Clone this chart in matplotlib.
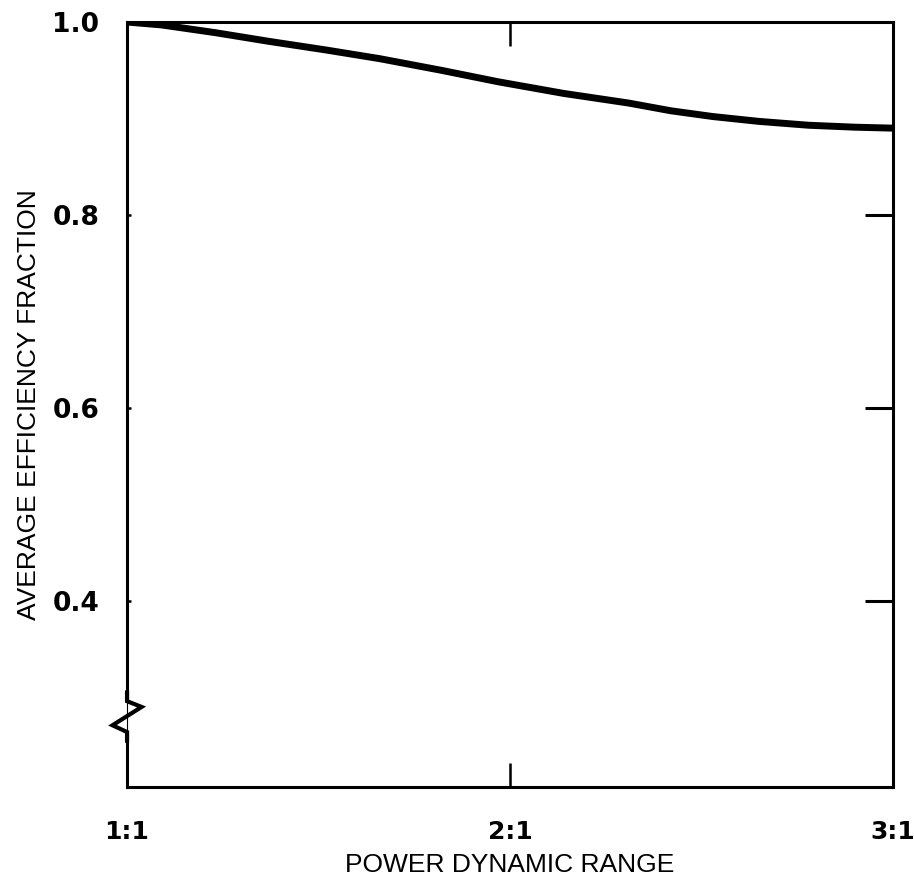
import numpy as np
import matplotlib
matplotlib.use("Agg")
import matplotlib.pyplot as plt
import matplotlib.transforms as mtransforms

# curve
dyn_range = [1.0, 1.09, 1.23, 1.37, 1.52, 1.66, 1.82, 1.97, 2.14, 2.31,
             2.42, 2.53, 2.65, 2.78, 2.9, 3.0]
efficiency = [1.0, 0.997, 0.989, 0.980, 0.971, 0.962, 0.950, 0.938, 0.926,
              0.916, 0.908, 0.902, 0.897, 0.893, 0.891, 0.890]

x_ticks = [1, 2, 3]
x_labels = ["1:1", "2:1", "3:1"]
y_ticks = [0.4, 0.6, 0.8, 1.0]
y_labels = ["0.4", "0.6", "0.8", "1.0"]

fig = plt.figure(figsize=(9.14, 8.92), dpi=100)
ax = fig.add_axes([0.139, 0.1177, 0.838, 0.8576])

ax.plot(dyn_range, efficiency, color="black", lw=5, solid_capstyle="butt",
        solid_joinstyle="round")

ax.set_xlim(1, 3)
ax.set_ylim(0.207, 1.0)

for s in ax.spines.values():
    s.set_linewidth(2.2)

ax.set_xticks(x_ticks, x_labels)
ax.set_yticks(y_ticks, y_labels)
ax.tick_params(axis="x", direction="in", length=17, width=1.8, top=True,
               pad=24, labelsize=18)
ax.tick_params(axis="y", direction="in", length=3, width=1.8, pad=20,
               labelsize=19)
for t in ax.get_xticklabels() + ax.get_yticklabels():
    t.set_fontweight("bold")

# right side ticks are longer
ax2 = ax.twinx()
ax2.set_ylim(ax.get_ylim())
ax2.set_yticks([0.4, 0.6, 0.8])
ax2.tick_params(axis="y", direction="in", length=20, width=2.2, labelright=False)

lab_font = ["Liberation Sans Narrow", "Liberation Sans", "DejaVu Sans"]
ax.set_xlabel("POWER DYNAMIC RANGE", fontsize=19, family=lab_font, labelpad=6)
ax.set_ylabel("AVERAGE EFFICIENCY FRACTION", fontsize=19, family=lab_font,
              labelpad=8)

# axis break zigzag on the left spine
trans = mtransforms.blended_transform_factory(ax.transAxes, ax.transData)
brk_x = [0.0, 0.0, 0.019, -0.019, 0.0, 0.0]
brk_y = [0.305, 0.296, 0.290, 0.271, 0.264, 0.255]
ax.plot([0, 0], [0.296, 0.264], color="white", lw=3, transform=trans,
        clip_on=False, zorder=5)
ax.plot(brk_x, brk_y, color="black", lw=3, transform=trans, clip_on=False,
        zorder=6, solid_joinstyle="miter")

fig.savefig("out.png", dpi=100)
